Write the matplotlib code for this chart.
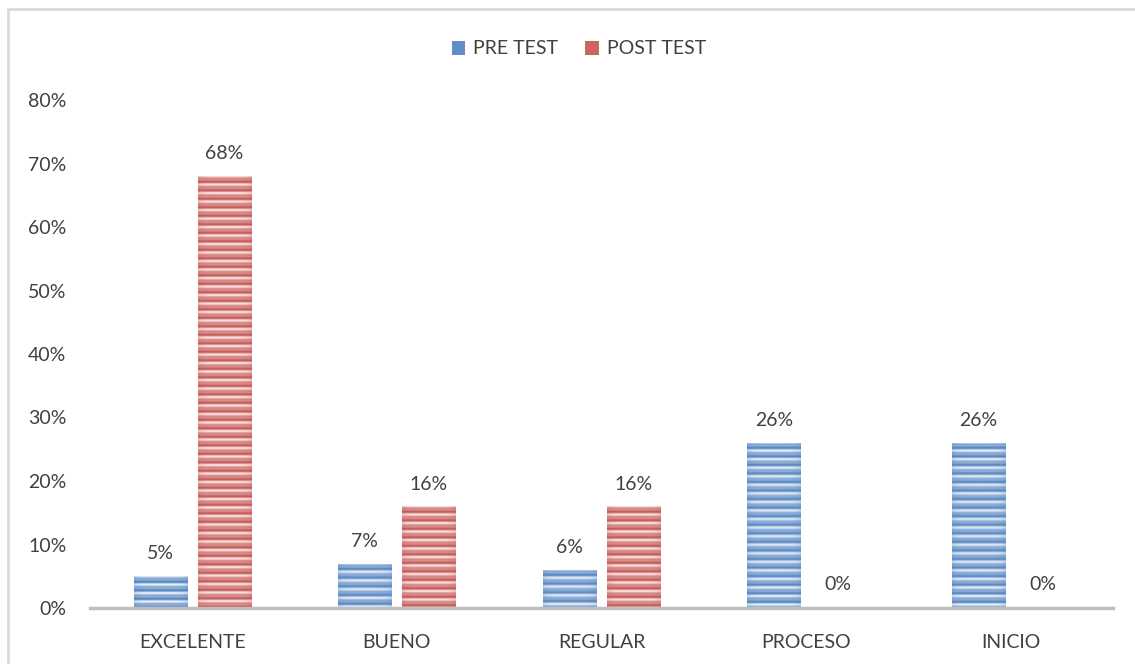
import matplotlib.pyplot as plt
import numpy as np
from matplotlib.patches import Rectangle, Patch
from matplotlib.colors import to_rgb

categories = ['EXCELENTE', 'BUENO', 'REGULAR', 'PROCESO', 'INICIO']
pre_test = [0.05, 0.07, 0.06, 0.26, 0.26]
post_test = [0.68, 0.16, 0.16, 0.00, 0.00]
series_names = ['PRE TEST', 'POST TEST']
y_ticks = [0, 0.1, 0.2, 0.3, 0.4, 0.5, 0.6, 0.7, 0.8]

plt.rc('font', family=['Lato', 'DejaVu Sans'])
text_color = '#404040'

fig = plt.figure(figsize=(11.35, 6.64), dpi=100)
fig.patches.append(Rectangle((8 / 1135, -0.1), 1.2, (664 - 9) / 664 + 0.1,
                             transform=fig.transFigure, fill=False,
                             edgecolor='#d9d9d9', linewidth=2))
ax = fig.add_axes([90 / 1135, 56 / 664, 1023 / 1135, 508 / 664])


def striped_fill(ax, patch, dark, light):
    x0, y0 = patch.get_x(), patch.get_y()
    w, h = patch.get_width(), patch.get_height()
    if h <= 0:
        return
    n_rows = max(int(round(h / 0.8 * 508)), 1)
    y = np.arange(n_rows)
    t = 0.5 + 0.35 * np.cos(2 * np.pi * y / 8.5) + 0.2 * np.cos(2 * np.pi * y / 4.25 + 1.0)
    t = np.clip(t, 0, 1)
    cols = np.linspace(-1, 1, 40)
    edge = 0.2 * cols ** 6
    dark, light = np.array(to_rgb(dark)), np.array(to_rgb(light))
    shade = np.clip(t[:, None] * (1 - edge[None, :]), 0, 1)
    img = light[None, None, :] * shade[..., None] + dark[None, None, :] * (1 - shade[..., None])
    im = ax.imshow(img, extent=[x0, x0 + w, y0, y0 + h], origin='upper',
                   aspect='auto', interpolation='bilinear', zorder=2)
    im.set_clip_path(patch)


x = np.arange(len(categories))
offset = 0.157
width = 0.26
bars_pre = ax.bar(x - offset, pre_test, width, color='none', edgecolor='none')
bars_post = ax.bar(x + offset, post_test, width, color='none', edgecolor='none')

for b in bars_pre:
    striped_fill(ax, b, '#4a7dbd', '#e6eef8')
for b in bars_post:
    striped_fill(ax, b, '#c0504d', '#fae0e0')

for bars, vals in ((bars_pre, pre_test), (bars_post, post_test)):
    for b, v in zip(bars, vals):
        ax.annotate(f'{v * 100:.0f}%', (b.get_x() + b.get_width() / 2, v),
                    xytext=(0, 10 if v > 0 else 11), textcoords='offset points',
                    ha='center', va='bottom', fontsize=14, color=text_color)

ax.set_xlim(-0.5, len(categories) - 0.5)
ax.set_ylim(0, 0.8)
ax.set_yticks(y_ticks)
ax.set_yticklabels([f'{v * 100:.0f}%' for v in y_ticks])
ax.set_xticks(x)
ax.set_xticklabels(categories)
ax.tick_params(axis='both', length=0, labelsize=14, labelcolor=text_color)
ax.tick_params(axis='y', pad=17)
ax.tick_params(axis='x', pad=19)
for side in ('top', 'right', 'left'):
    ax.spines[side].set_visible(False)
ax.spines['bottom'].set_color('#bfbfbf')
ax.spines['bottom'].set_linewidth(2.5)
ax.spines['bottom'].set_zorder(3)

handles = [Patch(facecolor='#5f8dc7', edgecolor='none'),
           Patch(facecolor='#cd6562', edgecolor='none')]
fig.legend(handles, series_names, loc='center', bbox_to_anchor=(579 / 1135, 1 - 49 / 664),
           ncol=2, frameon=False, fontsize=14, handlelength=0.7, handleheight=0.7,
           handletextpad=0.4, columnspacing=1.4, labelcolor=text_color)

fig.savefig('out.png', dpi=100)
